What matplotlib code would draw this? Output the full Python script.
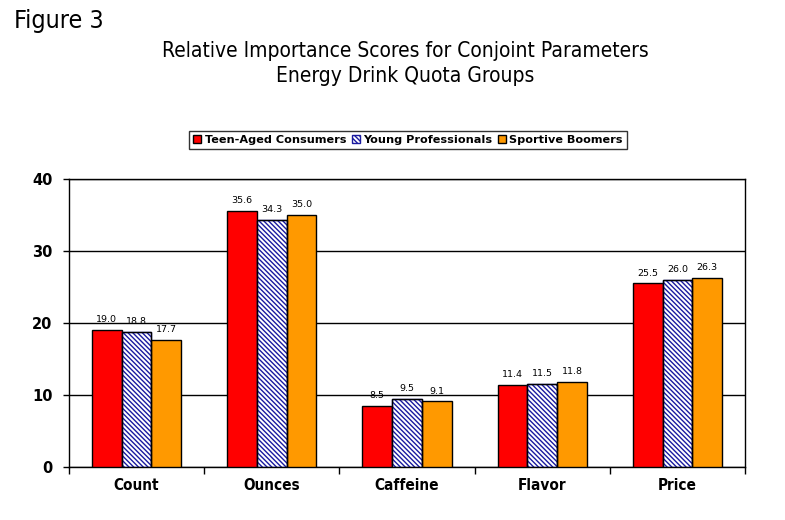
import matplotlib
matplotlib.use("Agg")
import matplotlib.pyplot as plt
import numpy as np

categories = ["Count", "Ounces", "Caffeine", "Flavor", "Price"]
series_names = ["Teen-Aged Consumers", "Young Professionals", "Sportive Boomers"]
teen = [19.0, 35.6, 8.5, 11.4, 25.5]
young = [18.8, 34.3, 9.5, 11.5, 26.0]
boomers = [17.7, 35.0, 9.1, 11.8, 26.3]
yticks = [0, 10, 20, 30, 40]

plt.rcParams['hatch.color'] = '#1a1aa0'
plt.rcParams['hatch.linewidth'] = 1.0

fig = plt.figure(figsize=(7.85, 5.2), dpi=100)
ax = fig.add_axes([69/785, 1-467/520, (745-69)/785, (467-179)/520])

cond = dict(family='DejaVu Sans', stretch='condensed')

x = np.arange(len(categories))
w = 0.22
fills = ['#ff0000', 'white', '#ff9900']
hatches = [None, '\\' * 7, None]
data = [teen, young, boomers]
for i, vals in enumerate(data):
    bars = ax.bar(x + (i - 1) * w, vals, w, facecolor=fills[i],
                  edgecolor='#1a1aa0' if hatches[i] else 'black', linewidth=1.0,
                  hatch=hatches[i], label=series_names[i], zorder=3)
    if hatches[i]:
        ax.bar(x + (i - 1) * w, vals, w, facecolor='none', edgecolor='black',
               linewidth=1.0, zorder=4)
    for xi, v in zip(x + (i - 1) * w, vals):
        ax.text(xi, v + 0.8, f"{v:.1f}", ha='center', va='bottom',
                fontsize=6.8, family='DejaVu Sans', zorder=5)

ax.set_ylim(0, 40)
ax.set_xlim(-0.5, len(categories) - 0.5)
ax.set_yticks(yticks)
ax.set_yticklabels([str(t) for t in yticks], fontsize=10.5, fontweight='bold',
                   family='DejaVu Sans')
ax.yaxis.grid(True, color='black', linewidth=1.0, zorder=0)
ax.set_axisbelow(True)

ax.set_xticks(np.arange(len(categories) + 1) - 0.5)
ax.set_xticklabels([])
ax.set_xticks(x, minor=True)
ax.set_xticklabels(categories, minor=True, fontsize=11, fontweight='bold', **cond)
ax.tick_params(axis='x', which='minor', length=0, pad=8)
ax.tick_params(axis='x', which='major', length=5, width=1, direction='out')
ax.tick_params(axis='y', length=4, width=1, direction='out', pad=8)
for s in ax.spines.values():
    s.set_linewidth(1.0)
    s.set_color('black')

leg = ax.legend(loc='lower center', bbox_to_anchor=((408-69)/676, (467-149)/288),
                ncol=3, frameon=True, fancybox=False, edgecolor='black',
                prop={'family': 'DejaVu Sans', 'weight': 'bold', 'size': 8.1},
                handlelength=0.7, handleheight=0.7, handletextpad=0.3,
                columnspacing=0.5, borderpad=0.35, borderaxespad=0)
leg.get_frame().set_linewidth(1.0)

fig.text(14/785, 1-28/520, "Figure 3", fontsize=18, ha='left', va='baseline', **cond)
fig.text(405/785, 1-57/520, "Relative Importance Scores for Conjoint Parameters",
         fontsize=15, ha='center', va='baseline', **cond)
fig.text(405/785, 1-82/520, "Energy Drink Quota Groups",
         fontsize=15, ha='center', va='baseline', **cond)

fig.savefig("out.png", dpi=100)
